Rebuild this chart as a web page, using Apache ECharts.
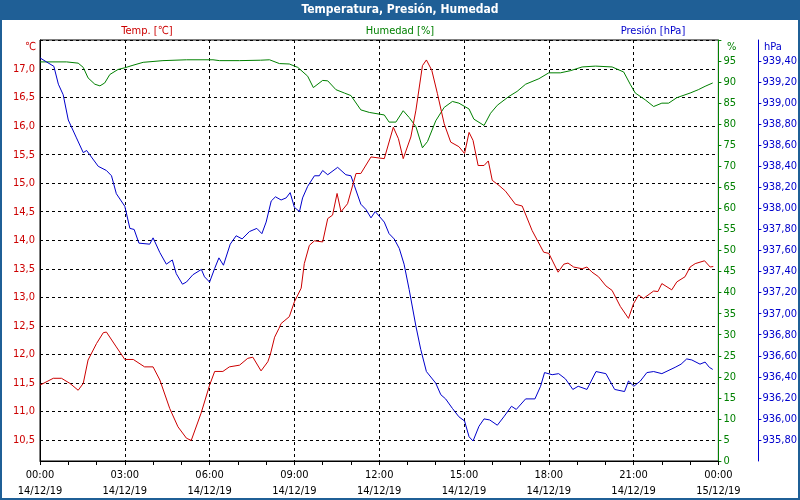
<!DOCTYPE html>
<html>
<head>
<meta charset="utf-8">
<script src="https://cdn.jsdelivr.net/npm/echarts@6/dist/echarts.min.js"></script>
<style>
  html, body { margin: 0; padding: 0; background: #fff; }
  #chart { width: 800px; height: 500px; }
</style>
</head>
<body>
<div id="chart"></div>
<script>
// hours since 14/12/19 00:00 and readings
const tempHours = [0, 0.47, 0.76, 1.06, 1.35, 1.53, 1.7, 2.0, 2.24, 2.35, 2.7, 3.0, 3.3, 3.7, 4.0, 4.24, 4.59, 4.88, 5.18, 5.35, 5.7, 6.0, 6.18, 6.47, 6.7, 7.06, 7.35, 7.53, 7.82, 8.06, 8.15, 8.3, 8.45, 8.53, 8.82, 9.0, 9.24, 9.35, 9.53, 9.71, 10.0, 10.18, 10.35, 10.51, 10.65, 10.88, 11.18, 11.35, 11.71, 12.18, 12.5, 12.68, 12.85, 13.12, 13.3, 13.53, 13.67, 13.86, 14.06, 14.3, 14.53, 14.82, 15.02, 15.18, 15.32, 15.5, 15.71, 15.86, 16.0, 16.24, 16.47, 16.82, 17.06, 17.41, 17.82, 18.0, 18.33, 18.53, 18.68, 18.88, 19.18, 19.35, 19.53, 19.76, 20.02, 20.24, 20.53, 20.82, 21.0, 21.18, 21.35, 21.71, 21.86, 22.0, 22.35, 22.53, 22.82, 23.0, 23.18, 23.51, 23.71, 23.82]
const tempValues = [11.46, 11.58, 11.58, 11.49, 11.37, 11.49, 11.9, 12.19, 12.38, 12.39, 12.13, 11.91, 11.91, 11.78, 11.78, 11.55, 11.05, 10.73, 10.53, 10.49, 10.97, 11.46, 11.7, 11.7, 11.78, 11.81, 11.93, 11.95, 11.71, 11.87, 12.0, 12.3, 12.45, 12.54, 12.66, 12.92, 13.16, 13.59, 13.91, 13.99, 13.97, 14.38, 14.44, 14.82, 14.5, 14.64, 15.17, 15.17, 15.46, 15.43, 15.98, 15.78, 15.43, 15.81, 16.28, 17.06, 17.16, 16.98, 16.57, 16.04, 15.72, 15.64, 15.52, 15.89, 15.75, 15.31, 15.31, 15.39, 15.05, 14.96, 14.86, 14.63, 14.6, 14.17, 13.79, 13.77, 13.44, 13.58, 13.6, 13.53, 13.5, 13.53, 13.44, 13.36, 13.2, 13.12, 12.84, 12.63, 12.89, 13.04, 12.98, 13.11, 13.1, 13.24, 13.13, 13.27, 13.36, 13.53, 13.59, 13.64, 13.53, 13.54]

const humHours = [0, 0.94, 1.35, 1.53, 1.7, 1.94, 2.12, 2.29, 2.47, 2.76, 3.0, 3.29, 3.65, 4.35, 5.18, 6.12, 6.35, 7.06, 7.8, 8.12, 8.47, 8.82, 9.12, 9.47, 9.67, 10.0, 10.18, 10.47, 10.77, 11.0, 11.35, 11.65, 12.0, 12.18, 12.35, 12.59, 12.85, 13.06, 13.3, 13.53, 13.71, 14.0, 14.3, 14.59, 14.82, 15.18, 15.35, 15.71, 15.94, 16.18, 16.59, 16.88, 17.18, 17.65, 18.0, 18.41, 18.76, 19.18, 19.65, 20.24, 20.65, 20.88, 21.06, 21.41, 21.71, 22.0, 22.24, 22.53, 23.0, 23.29, 23.53, 23.8]
const humValues = [94.8, 94.8, 94.5, 93.5, 91.0, 89.5, 89.1, 89.8, 91.8, 93.0, 93.4, 94.0, 94.7, 95.1, 95.3, 95.3, 95.1, 95.1, 95.2, 95.3, 94.4, 94.3, 93.5, 91.4, 88.7, 90.4, 90.3, 88.2, 87.4, 86.8, 83.4, 82.8, 82.4, 82.2, 80.5, 80.5, 83.2, 81.6, 79.4, 74.4, 75.9, 80.8, 84.0, 85.4, 85.0, 83.6, 81.2, 79.7, 82.6, 84.5, 86.6, 87.8, 89.5, 90.8, 92.2, 92.2, 92.7, 93.6, 93.8, 93.6, 92.4, 89.5, 87.4, 85.8, 84.2, 85.0, 85.0, 86.3, 87.4, 88.2, 89.0, 89.8]

const presHours = [0, 0.24, 0.49, 0.65, 0.82, 1.0, 1.29, 1.53, 1.65, 1.76, 2.06, 2.35, 2.53, 2.7, 3.0, 3.18, 3.33, 3.5, 3.88, 4.0, 4.24, 4.47, 4.68, 4.82, 5.04, 5.18, 5.41, 5.71, 5.82, 6.0, 6.18, 6.33, 6.49, 6.73, 6.94, 7.15, 7.41, 7.67, 7.85, 8.0, 8.18, 8.33, 8.53, 8.71, 8.85, 9.0, 9.18, 9.29, 9.47, 9.71, 9.88, 10.0, 10.18, 10.53, 10.82, 11.0, 11.35, 11.53, 11.71, 11.86, 12.18, 12.35, 12.53, 12.71, 12.88, 13.06, 13.3, 13.47, 13.67, 14.0, 14.18, 14.35, 14.59, 14.82, 15.02, 15.18, 15.32, 15.53, 15.71, 15.91, 16.18, 16.41, 16.68, 16.85, 17.18, 17.51, 17.71, 17.85, 18.12, 18.35, 18.59, 18.85, 19.04, 19.35, 19.67, 20.02, 20.33, 20.68, 20.82, 21.01, 21.24, 21.47, 21.71, 22.0, 22.47, 22.68, 22.88, 23.06, 23.35, 23.53, 23.68, 23.8]
const presValues = [939.43, 939.39, 939.35, 939.18, 939.08, 938.84, 938.67, 938.53, 938.55, 938.51, 938.40, 938.36, 938.31, 938.14, 938.02, 937.81, 937.80, 937.67, 937.66, 937.72, 937.58, 937.47, 937.51, 937.38, 937.28, 937.30, 937.37, 937.42, 937.35, 937.30, 937.43, 937.53, 937.46, 937.66, 937.74, 937.71, 937.78, 937.81, 937.76, 937.87, 938.07, 938.11, 938.08, 938.10, 938.15, 938.01, 937.97, 938.10, 938.21, 938.31, 938.31, 938.36, 938.32, 938.39, 938.32, 938.31, 938.04, 937.99, 937.91, 937.97, 937.87, 937.76, 937.71, 937.62, 937.47, 937.23, 936.88, 936.66, 936.45, 936.34, 936.23, 936.19, 936.10, 936.02, 935.98, 935.83, 935.79, 935.93, 936.0, 935.99, 935.94, 936.02, 936.12, 936.09, 936.19, 936.19, 936.31, 936.44, 936.42, 936.43, 936.38, 936.28, 936.31, 936.28, 936.45, 936.43, 936.28, 936.26, 936.36, 936.31, 936.36, 936.44, 936.45, 936.43, 936.49, 936.52, 936.57, 936.56, 936.52, 936.54, 936.49, 936.47]

const chart = echarts.init(document.getElementById('chart'), null, { renderer: 'canvas' })
const font = '"DejaVu Sans Condensed", "DejaVu Sans", sans-serif'
const RED = '#cc0000'
const GREEN = '#008000'
const BLUE = '#0000cc'
const FRAME = '#1f5f96'

const pairs = (xs, ys) => xs.map((x, i) => [x, ys[i]])
const comma = (v, d) => v.toFixed(d).replace('.', ',')

const xLabel = v => {
  const h = Math.round(v) % 24
  const day = v >= 24 ? '15/12/19' : '14/12/19'
  return String(h).padStart(2, '0') + ':00\n' + day
}

const option = {
  animation: false,
  backgroundColor: '#fff',
  textStyle: { fontFamily: font, fontSize: 11 },
  grid: {
    left: 40, right: 79, top: 40, bottom: 39,
    show: true, borderColor: '#000', borderWidth: 1, backgroundColor: '#fff'
  },
  graphic: [
    { type: 'rect', shape: { x: 0, y: 0, width: 800, height: 20 }, style: { fill: FRAME }, z: 10 },
    { type: 'rect', shape: { x: 1, y: 1, width: 798, height: 498 }, style: { fill: null, stroke: FRAME, lineWidth: 2 }, z: 10 },
    { type: 'text', x: 400, y: 10, z: 11, style: { text: 'Temperatura, Presión, Humedad', fill: '#fff', font: 'bold 12px ' + font, textAlign: 'center', textVerticalAlign: 'middle' } },
    { type: 'text', x: 147, y: 31, z: 11, style: { text: 'Temp. [℃]', fill: RED, font: '11px ' + font, textAlign: 'center', textVerticalAlign: 'middle' } },
    { type: 'text', x: 400, y: 31, z: 11, style: { text: 'Humedad [%]', fill: GREEN, font: '11px ' + font, textAlign: 'center', textVerticalAlign: 'middle' } },
    { type: 'text', x: 653, y: 31, z: 11, style: { text: 'Presión [hPa]', fill: BLUE, font: '11px ' + font, textAlign: 'center', textVerticalAlign: 'middle' } },
    { type: 'text', x: 36, y: 47, z: 11, style: { text: '℃', fill: RED, font: '11px ' + font, textAlign: 'right', textVerticalAlign: 'middle' } },
    { type: 'text', x: 727, y: 47, z: 11, style: { text: '%', fill: GREEN, font: '11px ' + font, textAlign: 'left', textVerticalAlign: 'middle' } },
    { type: 'text', x: 764, y: 47, z: 11, style: { text: 'hPa', fill: BLUE, font: '11px ' + font, textAlign: 'left', textVerticalAlign: 'middle' } }
  ],
  xAxis: {
    type: 'value',
    min: 0, max: 24, interval: 3,
    axisLine: { lineStyle: { color: '#000', width: 1 } },
    axisTick: { show: true, length: 4, lineStyle: { color: '#000' } },
    minorTick: { show: true, splitNumber: 3, length: 4, lineStyle: { color: '#000' } },
    axisLabel: { color: '#000', fontFamily: font, fontSize: 11, lineHeight: 16, margin: 6, formatter: xLabel },
    splitLine: { show: true, showMinLine: false, showMaxLine: false, lineStyle: { color: '#000', type: [3, 3], width: 1 } }
  },
  yAxis: [
    {
      // temperature, left
      type: 'value', position: 'left',
      min: 10.13, max: 17.51, splitNumber: 15,
      axisLine: { show: true, lineStyle: { color: '#000' } },
      axisTick: { show: false },
      axisLabel: {
        color: RED, fontFamily: font, fontSize: 11, margin: 5,
        showMinLabel: false, showMaxLabel: false,
        formatter: v => (Math.abs(v * 2 - Math.round(v * 2)) < 1e-6 && v < 17.2) ? comma(v, 1) : ''
      },
      splitLine: { show: true, showMinLine: false, showMaxLine: false, lineStyle: { color: '#000', type: [3, 3], width: 1 } }
    },
    {
      // humidity, right
      type: 'value', position: 'right', offset: 0,
      min: 0, max: 100, interval: 5,
      axisLine: { show: true, lineStyle: { color: GREEN } },
      axisTick: { show: true, length: 3, lineStyle: { color: GREEN } },
      axisLabel: { color: GREEN, fontFamily: font, fontSize: 11, margin: 5, formatter: v => v >= 100 ? '' : String(v) },
      splitLine: { show: false }
    },
    {
      // pressure, far right
      type: 'value', position: 'right', offset: 40,
      min: 935.6, max: 939.6, interval: 0.2,
      axisLine: { show: true, lineStyle: { color: BLUE } },
      axisTick: { show: true, length: 3, lineStyle: { color: BLUE } },
      axisLabel: {
        color: BLUE, fontFamily: font, fontSize: 11, margin: 4,
        showMinLabel: false, showMaxLabel: false,
        formatter: v => comma(v, 2)
      },
      splitLine: { show: false }
    }
  ],
  series: [
    {
      name: 'Humedad [%]', type: 'line', yAxisIndex: 1,
      data: pairs(humHours, humValues),
      showSymbol: false, lineStyle: { color: GREEN, width: 1 }, itemStyle: { color: GREEN }
    },
    {
      name: 'Presión [hPa]', type: 'line', yAxisIndex: 2,
      data: pairs(presHours, presValues),
      showSymbol: false, lineStyle: { color: BLUE, width: 1 }, itemStyle: { color: BLUE }
    },
    {
      name: 'Temp. [℃]', type: 'line', yAxisIndex: 0,
      data: pairs(tempHours, tempValues),
      showSymbol: false, lineStyle: { color: RED, width: 1 }, itemStyle: { color: RED }
    }
  ]
}

chart.setOption(option)
</script>
</body>
</html>
